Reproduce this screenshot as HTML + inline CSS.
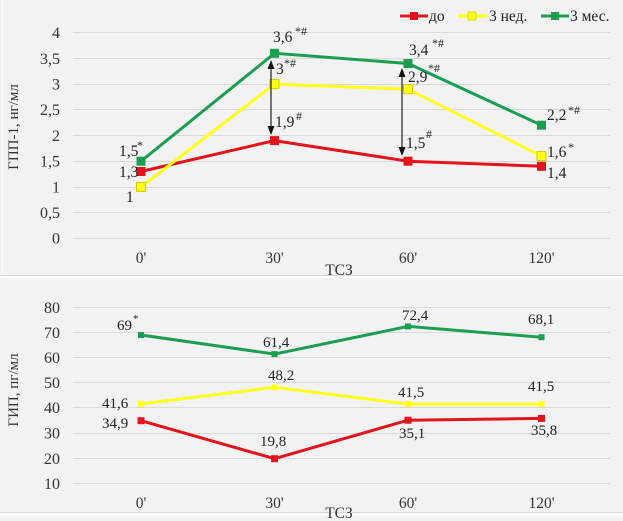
<!DOCTYPE html>
<html><head><meta charset="utf-8"><style>
html,body{margin:0;padding:0;background:#f2f2f2;}
svg{display:block;font-family:"Liberation Serif","DejaVu Serif",serif;}
</style></head><body>
<svg width="623" height="521" viewBox="0 0 623 521" xmlns="http://www.w3.org/2000/svg">
<rect x="0" y="0" width="623" height="521" fill="#f2f2f2"/>
<line x1="2.5" y1="0" x2="2.5" y2="275" stroke="#fbfbfb" stroke-width="1"/>
<!-- separator -->
<line x1="0" y1="275.5" x2="623" y2="275.5" stroke="#d6d6d6" stroke-width="1"/>
<line x1="0" y1="277" x2="623" y2="277" stroke="#ffffff" stroke-width="2"/>
<line x1="0" y1="512.5" x2="623" y2="512.5" stroke="#d6d6d6" stroke-width="1"/>
<line x1="0" y1="514.5" x2="623" y2="514.5" stroke="#ffffff" stroke-width="2"/>

<!-- TOP CHART gridlines -->
<g stroke="#d9d9d9" stroke-width="1">
<line x1="73" y1="32.5" x2="610" y2="32.5"/>
<line x1="73" y1="58.5" x2="610" y2="58.5"/>
<line x1="73" y1="84.5" x2="610" y2="84.5"/>
<line x1="73" y1="109.5" x2="610" y2="109.5"/>
<line x1="73" y1="135.5" x2="610" y2="135.5"/>
<line x1="73" y1="161.5" x2="610" y2="161.5"/>
<line x1="73" y1="187.5" x2="610" y2="187.5"/>
<line x1="73" y1="212.5" x2="610" y2="212.5"/>
<line x1="73" y1="238.5" x2="610" y2="238.5"/>
</g>
<g font-size="16" fill="#333" text-anchor="end">
<text x="60" y="38">4</text>
<text x="60" y="64">3,5</text>
<text x="60" y="89.5">3</text>
<text x="60" y="115">2,5</text>
<text x="60" y="141">2</text>
<text x="60" y="166.5">1,5</text>
<text x="60" y="192.5">1</text>
<text x="60" y="218">0,5</text>
<text x="60" y="243.5">0</text>
</g>
<g font-size="15.5" fill="#333" text-anchor="middle">
<text x="141" y="263">0'</text>
<text x="274.5" y="263">30'</text>
<text x="408" y="263">60'</text>
<text x="541.5" y="263">120'</text>
</g>
<text x="339" y="275" font-size="15.5" fill="#333" text-anchor="middle">ТСЗ</text>
<text transform="translate(18,127) rotate(-90)" font-size="15" fill="#333" text-anchor="middle">ГПП-1, нг/мл</text>

<!-- legend -->
<line x1="400" y1="16" x2="428" y2="16" stroke="#e3141b" stroke-width="3"/>
<rect x="410" y="12" width="8" height="8" fill="#e3141b"/>
<text x="429" y="21" font-size="15.5" fill="#222">до</text>
<line x1="458" y1="16" x2="487" y2="16" stroke="#ffff1a" stroke-width="3"/>
<rect x="468" y="12" width="8" height="8" fill="#ffff1a" stroke="#d6c800" stroke-width="0.8"/>
<text x="489" y="21" font-size="15.5" fill="#222">3 нед.</text>
<line x1="541" y1="16" x2="569" y2="16" stroke="#1c9e52" stroke-width="3"/>
<rect x="551" y="12" width="8" height="8" fill="#1c9e52"/>
<text x="570" y="21" font-size="15.5" fill="#222">3 мес.</text>

<!-- top series -->
<polyline points="141,171.5 274.5,140.6 408,161.2 541.5,166.3" fill="none" stroke="#e3141b" stroke-width="3"/>
<polyline points="141,186.9 274.5,84.1 408,89.2 541.5,156.1" fill="none" stroke="#ffff1a" stroke-width="3"/>
<polyline points="141,161.2 274.5,53.3 408,63.5 541.5,125.2" fill="none" stroke="#1c9e52" stroke-width="3"/>
<g fill="#e3141b">
<rect x="136.5" y="167" width="9" height="9"/>
<rect x="270" y="136.1" width="9" height="9"/>
<rect x="403.5" y="156.7" width="9" height="9"/>
<rect x="537" y="161.8" width="9" height="9"/>
</g>
<g fill="#ffff1a" stroke="#d6c800" stroke-width="1">
<rect x="136.5" y="182.4" width="9" height="9"/>
<rect x="270" y="79.6" width="9" height="9"/>
<rect x="403.5" y="84.7" width="9" height="9"/>
<rect x="537" y="151.6" width="9" height="9"/>
</g>
<g fill="#1c9e52">
<rect x="136.5" y="156.7" width="9" height="9"/>
<rect x="270" y="48.8" width="9" height="9"/>
<rect x="403.5" y="59" width="9" height="9"/>
<rect x="537" y="120.7" width="9" height="9"/>
</g>

<!-- arrows -->
<g stroke="#222" stroke-width="1.2" fill="#111">
<line x1="271" y1="66" x2="271" y2="129"/>
<line x1="402" y1="74" x2="402" y2="150"/>
</g>
<g fill="#111">
<polygon points="271,60 267.5,69 274.5,69"/>
<polygon points="271,135 267.5,126 274.5,126"/>
<polygon points="402,68 398.5,77 405.5,77"/>
<polygon points="402,156 398.5,147 405.5,147"/>
</g>

<!-- top labels -->
<g font-size="15.5" fill="#222">
<text x="119" y="156">1,5</text><text x="137" y="149" font-size="12">*</text>
<text x="119" y="177">1,3</text>
<text x="126" y="202">1</text>
<text x="273" y="42">3,6</text><text x="295" y="35" font-size="12">*#</text>
<text x="276" y="74">3</text><text x="284" y="67" font-size="12">*#</text>
<text x="275" y="127">1,9</text><text x="296" y="120" font-size="12">#</text>
<text x="409" y="55">3,4</text><text x="432" y="47" font-size="12">*#</text>
<text x="408" y="82">2,9</text><text x="428" y="72" font-size="12">*#</text>
<text x="406" y="148">1,5</text><text x="426" y="138" font-size="12">#</text>
<text x="547" y="120">2,2</text><text x="568" y="114" font-size="12">*#</text>
<text x="547" y="157">1,6</text><text x="568" y="151" font-size="12">*</text>
<text x="547" y="178">1,4</text>
</g>

<!-- BOTTOM CHART -->
<g stroke="#d9d9d9" stroke-width="1">
<line x1="73" y1="307.5" x2="610" y2="307.5"/>
<line x1="73" y1="332.5" x2="610" y2="332.5"/>
<line x1="73" y1="357.5" x2="610" y2="357.5"/>
<line x1="73" y1="382.5" x2="610" y2="382.5"/>
<line x1="73" y1="407.5" x2="610" y2="407.5"/>
<line x1="73" y1="433.5" x2="610" y2="433.5"/>
<line x1="73" y1="458.5" x2="610" y2="458.5"/>
<line x1="73" y1="483.5" x2="610" y2="483.5"/>
</g>
<g font-size="16" fill="#333" text-anchor="end">
<text x="60" y="313">80</text>
<text x="60" y="338">70</text>
<text x="60" y="363">60</text>
<text x="60" y="388">50</text>
<text x="60" y="413">40</text>
<text x="60" y="438.5">30</text>
<text x="60" y="464">20</text>
<text x="60" y="489">10</text>
</g>
<g font-size="15.5" fill="#333" text-anchor="middle">
<text x="141" y="508">0'</text>
<text x="274.5" y="508">30'</text>
<text x="408" y="508">60'</text>
<text x="541.5" y="508">120'</text>
</g>
<text x="339" y="518" font-size="15.5" fill="#333" text-anchor="middle">ТСЗ</text>
<text transform="translate(18,390) rotate(-90)" font-size="15" fill="#333" text-anchor="middle">ГИП, пг/мл</text>

<polyline points="141,420.7 274.5,458.7 408,420.2 541.5,418.4" fill="none" stroke="#e3141b" stroke-width="3"/>
<polyline points="141,403.9 274.5,387.3 408,404.1 541.5,404.1" fill="none" stroke="#ffff1a" stroke-width="3"/>
<polyline points="141,335 274.5,354.1 408,326.4 541.5,337.2" fill="none" stroke="#1c9e52" stroke-width="3"/>
<g fill="#e3141b">
<rect x="137.5" y="417.2" width="7" height="7"/>
<rect x="271" y="455.2" width="7" height="7"/>
<rect x="404.5" y="416.7" width="7" height="7"/>
<rect x="538" y="414.9" width="7" height="7"/>
</g>
<g fill="#ffff1a">
<rect x="138" y="400.9" width="6" height="6"/>
<rect x="271.5" y="384.3" width="6" height="6"/>
<rect x="405" y="401.1" width="6" height="6"/>
<rect x="538.5" y="401.1" width="6" height="6"/>
</g>
<g fill="#1c9e52">
<rect x="138" y="332" width="6" height="6"/>
<rect x="271.5" y="351.1" width="6" height="6"/>
<rect x="405" y="323.4" width="6" height="6"/>
<rect x="538.5" y="334.2" width="6" height="6"/>
</g>
<g font-size="15" fill="#222">
<text x="117" y="330">69</text><text x="133" y="322" font-size="11">*</text>
<text x="102" y="408">41,6</text>
<text x="102" y="428">34,9</text>
<text x="263" y="347">61,4</text>
<text x="268" y="380">48,2</text>
<text x="260" y="446">19,8</text>
<text x="402" y="320">72,4</text>
<text x="528" y="324">68,1</text>
<text x="398" y="397">41,5</text>
<text x="528" y="391">41,5</text>
<text x="399" y="438">35,1</text>
<text x="531" y="435">35,8</text>
</g>
</svg>
</body></html>
